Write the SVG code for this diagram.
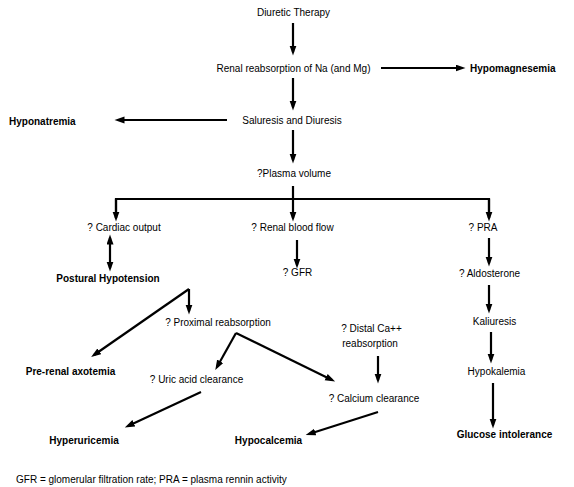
<svg xmlns="http://www.w3.org/2000/svg" width="574" height="487" viewBox="0 0 574 487">
<style>
text{font-family:"Liberation Sans",Arial,sans-serif;font-size:10px;fill:#000;text-anchor:middle}
.b{font-weight:bold;font-size:10px}
.s{text-anchor:start}
#connectors path{fill:none;stroke:#000;stroke-width:2.2;marker-end:url(#ah)}
#connectors path.nm{marker-end:none}
#connectors path.dbl{marker-start:url(#ah2)}
</style>
<defs>
<marker id="ah" markerUnits="userSpaceOnUse" markerWidth="11" markerHeight="8" refX="6.5" refY="3.5" orient="auto"><path d="M0,0 L10,3.5 L0,7 z" fill="#000"/></marker>
<marker id="ah2" markerUnits="userSpaceOnUse" markerWidth="11" markerHeight="8" refX="6.5" refY="3.5" orient="auto-start-reverse"><path d="M0,0 L10,3.5 L0,7 z" fill="#000"/></marker>
</defs>
<rect width="574" height="487" fill="#fff"/>
<g id="connectors">
<path d="M293,23 V52"/>
<path d="M381,68 H462"/>
<path d="M293,78 V107"/>
<path d="M227,120 H118"/>
<path d="M293,130 V160"/>
<path class="nm" d="M116,218 V199 H489 V218"/>
<path d="M116,199 V218"/>
<path d="M293,186 V218"/>
<path d="M489,199 V218"/>
<path class="dbl" d="M110,238 V268"/>
<path d="M297,240 V265"/>
<path d="M489,238 V263"/>
<path d="M489,285 V310"/>
<path d="M491,332 V360"/>
<path d="M493,383 V425"/>
<path d="M189,289 V311"/>
<path d="M189,289 L94,355"/>
<path d="M236,333 L217,367"/>
<path d="M236,333 L332,380"/>
<path d="M378,356 V380"/>
<path d="M201,392 L128,426"/>
<path d="M378,412 L309,434"/>
</g>
<g id="diuretic"><text x="293.5" y="15.5">Diuretic Therapy</text></g>
<g id="renal-reabsorption"><text x="293.5" y="72">Renal reabsorption of Na (and Mg)</text></g>
<g id="hypomagnesemia"><text class="b s" x="470" y="72">Hypomagnesemia</text></g>
<g id="saluresis"><text x="292" y="124">Saluresis and Diuresis</text></g>
<g id="hyponatremia"><text class="b s" x="9" y="125">Hyponatremia</text></g>
<g id="plasma-volume"><text x="294" y="177">?Plasma volume</text></g>
<g id="cardiac-output"><text x="124" y="231">? Cardiac output</text></g>
<g id="renal-blood-flow"><text x="292.5" y="231">? Renal blood flow</text></g>
<g id="pra"><text x="483" y="231">? PRA</text></g>
<g id="postural"><text class="b" x="108" y="282">Postural Hypotension</text></g>
<g id="gfr"><text x="297.5" y="276">? GFR</text></g>
<g id="aldosterone"><text x="489.5" y="277">? Aldosterone</text></g>
<g id="kaliuresis"><text x="494.5" y="325">Kaliuresis</text></g>
<g id="hypokalemia"><text x="496.5" y="375">Hypokalemia</text></g>
<g id="glucose"><text class="b" x="504.5" y="438">Glucose intolerance</text></g>
<g id="proximal"><text x="218" y="326">? Proximal reabsorption</text></g>
<g id="prerenal"><text class="b" x="70.5" y="375">Pre-renal axotemia</text></g>
<g id="uric-acid"><text x="196.5" y="383">? Uric acid clearance</text></g>
<g id="hyperuricemia"><text class="b" x="84" y="444">Hyperuricemia</text></g>
<g id="distal"><text x="371.5" y="332">? Distal Ca++</text><text x="370" y="347">reabsorption</text></g>
<g id="calcium-clearance"><text x="374" y="402">? Calcium clearance</text></g>
<g id="hypocalcemia"><text class="b" x="268.5" y="444">Hypocalcemia</text></g>
<g id="footer"><text class="s" x="16" y="483">GFR = glomerular filtration rate; PRA = plasma rennin activity</text></g>
</svg>
